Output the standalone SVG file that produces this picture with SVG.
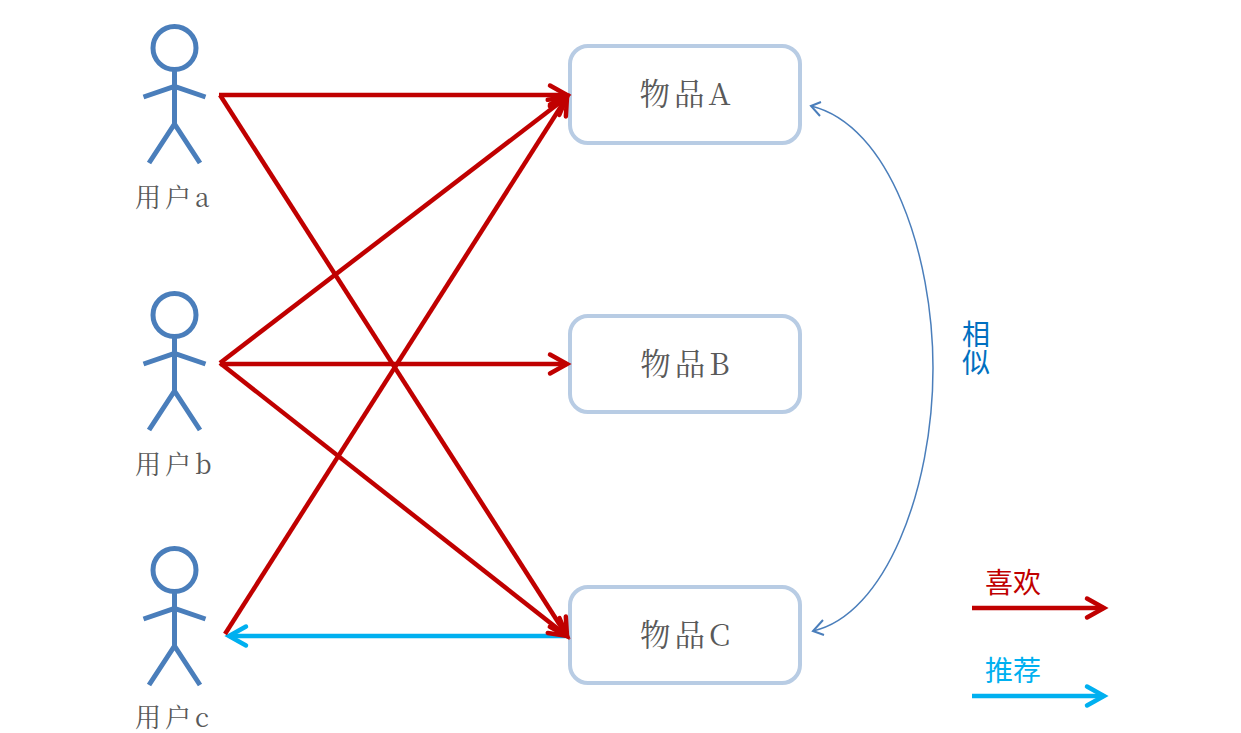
<svg xmlns="http://www.w3.org/2000/svg" width="1241" height="733" viewBox="0 0 1241 733">
<style>
.p{fill:none;stroke:#4a7ebb;stroke-width:5}
.b{fill:#fff;stroke:#b8cce4;stroke-width:4}
.t{font-family:"Noto Serif CJK SC","Liberation Serif","Noto Sans CJK SC",serif;fill:#595959}
.u{font-size:26px;letter-spacing:4px}
.n{font-size:30.500px;letter-spacing:4px}
.s{font-family:"Noto Sans CJK SC",sans-serif;font-size:28px}
.r{fill:none;stroke:#c00000;stroke-width:4.5;marker-end:url(#hr)}
.c{fill:none;stroke:#00b0f0;stroke-width:4.5;marker-end:url(#hc)}
</style>
<defs>
<marker id="hr" markerUnits="userSpaceOnUse" markerWidth="30" markerHeight="30" refX="20" refY="15" orient="auto" overflow="visible"><path d="M3 5.500L20 15L3 24.500" fill="none" stroke="#c00000" stroke-width="4.500" stroke-linecap="round"/></marker>
<marker id="hc" markerUnits="userSpaceOnUse" markerWidth="30" markerHeight="30" refX="20" refY="15" orient="auto" overflow="visible"><path d="M3 5.500L20 15L3 24.500" fill="none" stroke="#00b0f0" stroke-width="4.500" stroke-linecap="round"/></marker>
<g id="person">
<circle cx="174.500" cy="48" r="21.500" class="p"/>
<path class="p" d="M174.500 70V124M143.500 97L174.500 86.500L205.500 97M149 163L174.500 124L200 163"/>
</g>
</defs>
<g id="user-a"><use href="#person"/><text class="t u" x="135" y="207">用户a</text></g>
<g id="user-b"><use href="#person" y="267"/><text class="t u" x="135" y="474">用户b</text></g>
<g id="user-c"><use href="#person" y="522"/><text class="t u" x="135" y="727">用户c</text></g>
<g id="item-a"><rect class="b" x="570" y="46" width="230" height="97" rx="18"/><text class="t n" x="687" y="105" text-anchor="middle">物品A</text></g>
<g id="item-b"><rect class="b" x="570" y="316" width="230" height="96" rx="18"/><text class="t n" x="687" y="375" text-anchor="middle">物品B</text></g>
<g id="item-c"><rect class="b" x="570" y="587" width="230" height="96" rx="18"/><text class="t n" x="687" y="646" text-anchor="middle">物品C</text></g>
<g id="connectors">
<path class="c" d="M568 636H229"/>
<path class="r" d="M219 95H567"/>
<path class="r" d="M220 95L567 636"/>
<path class="r" d="M220 363L567 97"/>
<path class="r" d="M220 364H567"/>
<path class="r" d="M220 363L567 636"/>
<path class="r" d="M225 634L567 97"/>
<path fill="none" stroke="#4a7ebb" stroke-width="1.500" d="M811 106C890 125 933 255 933 368C933 490 885 615 813 631"/>
<path fill="none" stroke="#4a7ebb" stroke-width="2" d="M821 102L811 106L820 116M823 620L813 631L824 635"/>
<path class="r" d="M972 608H1104"/>
<path class="c" d="M972 696H1104"/>
</g>
<g id="labels">
<text class="s" fill="#0070c0"><tspan x="962" y="345">相</tspan><tspan x="962" y="373">似</tspan></text>
<text class="s" x="985" y="593" fill="#c00000">喜欢</text>
<text class="s" x="985" y="681" fill="#00b0f0">推荐</text>
</g>
</svg>
